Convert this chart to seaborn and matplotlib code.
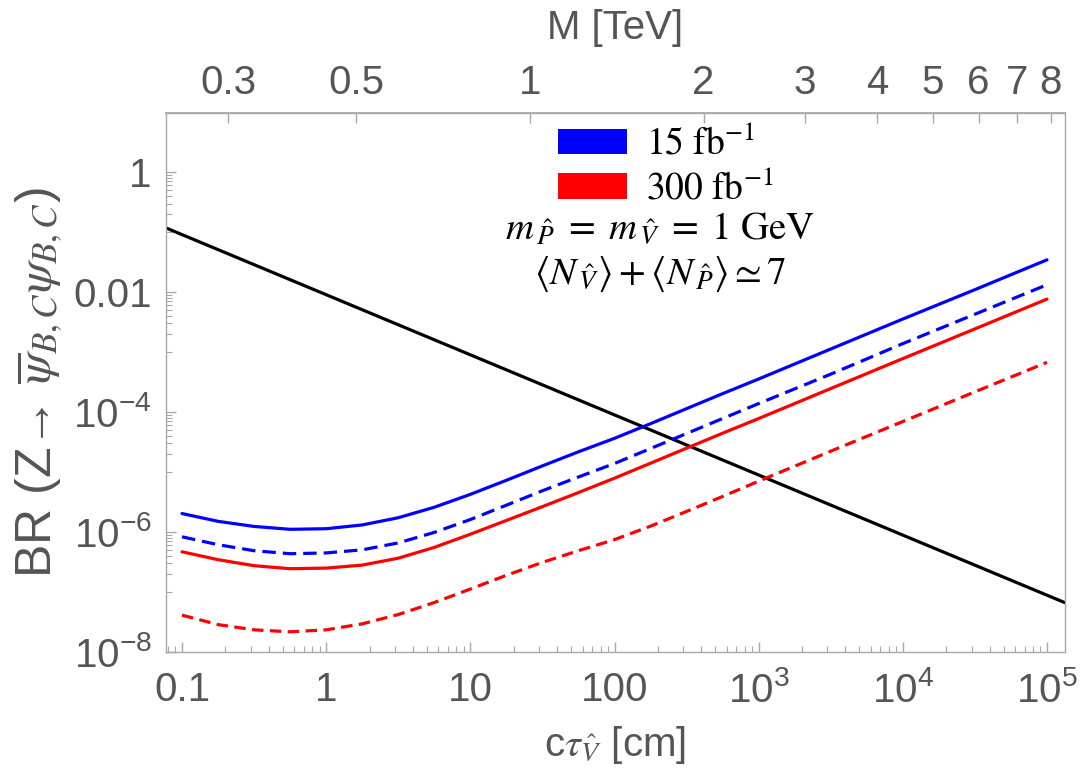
import numpy as np
import matplotlib
matplotlib.use("Agg")
import matplotlib.pyplot as plt
import seaborn as sns
from matplotlib.patches import Patch
from matplotlib.ticker import FixedLocator, FixedFormatter, NullLocator, NullFormatter

# ---------------- data ----------------
ctau = [0.1, 0.178, 0.316, 0.562, 1.0, 1.78, 3.16, 5.62, 10, 17.8, 31.6, 56.2,
        100, 178, 316, 562, 1000, 3160, 1e4, 3.16e4, 1e5]

# log10 of the branching ratio
log_br_15_solid = [-5.695, -5.825, -5.910, -5.958, -5.948, -5.885, -5.765, -5.590, -5.375,
                   -5.140, -4.900, -4.665, -4.440, -4.195, -3.945, -3.695, -3.450, -2.950,
                   -2.450, -1.960, -1.462]
log_br_15_dash = [-6.083, -6.215, -6.315, -6.365, -6.352, -6.300, -6.185, -6.010, -5.795,
                  -5.555, -5.315, -5.085, -4.860, -4.610, -4.360, -4.110, -3.860, -3.370,
                  -2.860, -2.370, -1.878]
log_br_300_solid = [-6.333, -6.465, -6.565, -6.615, -6.605, -6.555, -6.440, -6.260, -6.040,
                    -5.810, -5.580, -5.345, -5.105, -4.855, -4.605, -4.355, -4.110, -3.610,
                    -3.110, -2.615, -2.117]
log_br_300_dash = [-7.390, -7.548, -7.635, -7.668, -7.635, -7.535, -7.380, -7.180, -6.955,
                   -6.725, -6.510, -6.315, -6.130, -5.905, -5.660, -5.410, -5.155, -4.655,
                   -4.160, -3.665, -3.173]

black_x = [0.0771, 1.327e5]
black_y = [0.118, 6.6e-8]

x_ticks = [0.1, 1, 10, 100, 1e3, 1e4, 1e5]
x_labels = ["0.1", "1", "10", "100", r"$\mathregular{10^{3}}$", r"$\mathregular{10^{4}}$", r"$\mathregular{10^{5}}$"]
y_ticks = [1, 1e-2, 1e-4, 1e-6, 1e-8]
y_labels = ["1", "0.01", r"$\mathregular{10^{-4}}$", r"$\mathregular{10^{-6}}$", r"$\mathregular{10^{-8}}$"]
M_ticks = [0.3, 0.5, 1, 2, 3, 4, 5, 6, 7, 8]
M_labels = ["0.3", "0.5", "1", "2", "3", "4", "5", "6", "7", "8"]
ctau_at_1TeV = 25.9   # c tau [cm] at M = 1 TeV, scaling as M^4

legend_labels = [r"$15\ \mathrm{fb}^{-1}$", r"$300\ \mathrm{fb}^{-1}$"]

# ---------------- style ----------------
sns.set_theme(style="white")
SANS = ["Liberation Sans Narrow", "Liberation Sans", "DejaVu Sans"]
plt.rcParams["font.family"] = SANS
plt.rcParams["axes.unicode_minus"] = True
GRAY_TXT = "#555555"
GRAY_AX = "#a8a8a8"
TICKFS = 29

fig = plt.figure(figsize=(10.84, 7.79), dpi=100)
ax = fig.add_axes([0.1529, 0.1634, 0.8293, 0.6912])

LW = 2.3
sns.lineplot(x=black_x, y=black_y, ax=ax, color="black", lw=LW)
sns.lineplot(x=ctau, y=np.power(10.0, log_br_15_solid), ax=ax, color="#0000ff", lw=LW)
sns.lineplot(x=ctau, y=np.power(10.0, log_br_15_dash), ax=ax, color="#0000ff", lw=LW,
             linestyle=(0, (4.2, 2.2)))
sns.lineplot(x=ctau, y=np.power(10.0, log_br_300_solid), ax=ax, color="#ff0000", lw=LW)
sns.lineplot(x=ctau, y=np.power(10.0, log_br_300_dash), ax=ax, color="#ff0000", lw=LW,
             linestyle=(0, (3.6, 2.0)))

ax.set_xscale("log")
ax.set_yscale("log")
ax.set_xlim(0.0771, 1.327e5)
ax.set_ylim(1e-8, 9.62)

for s in ax.spines.values():
    s.set_color(GRAY_AX)
    s.set_linewidth(1.0)

ax.xaxis.set_major_locator(FixedLocator(x_ticks))
ax.xaxis.set_major_formatter(FixedFormatter(x_labels))
ax.yaxis.set_major_locator(FixedLocator(y_ticks))
ax.yaxis.set_major_formatter(FixedFormatter(y_labels))
ymin = [m * 10.0 ** (e - 1) for e in (0, -2, -4, -6) for m in range(1, 10)]
ax.yaxis.set_minor_locator(FixedLocator(ymin))
ax.yaxis.set_minor_formatter(NullFormatter())
xmin = [m * 10.0 ** e for e in range(-2, 6) for m in range(2, 10)]
ax.xaxis.set_minor_locator(FixedLocator(xmin))
ax.xaxis.set_minor_formatter(NullFormatter())

ax.tick_params(axis="both", which="both", direction="in", color=GRAY_AX,
               labelcolor=GRAY_TXT, labelsize=TICKFS, top=False, right=False,
               bottom=True, left=True)
ax.tick_params(axis="both", which="major", length=7, width=1.0)
ax.tick_params(axis="both", which="minor", length=4, width=0.8)
ax.tick_params(axis="x", which="major", pad=14)
ax.tick_params(axis="y", which="major", pad=10)

# top axis: M [TeV]
def ct_to_M(x):
    x = np.clip(np.asarray(x, dtype=float), 1e-30, None)
    return (x / ctau_at_1TeV) ** 0.25

def M_to_ct(m):
    m = np.clip(np.asarray(m, dtype=float), 1e-30, None)
    return ctau_at_1TeV * m ** 4

sec = ax.secondary_xaxis("top", functions=(ct_to_M, M_to_ct))
sec.set_xticks(M_ticks)
sec.set_xticklabels(M_labels)
sec.xaxis.set_minor_locator(NullLocator())
sec.xaxis.set_minor_formatter(NullFormatter())
sec.tick_params(axis="x", which="major", direction="in", length=7, width=1.0,
                color=GRAY_AX, labelcolor=GRAY_TXT, labelsize=TICKFS, pad=8)
sec.spines["top"].set_color(GRAY_AX)
sec.set_xlabel("M [TeV]", fontsize=TICKFS, color=GRAY_TXT, labelpad=18)

# axis labels
xl = ax.set_xlabel(r"c$\tau_{\hat{V}}$ [cm]", fontsize=TICKFS, color=GRAY_TXT, labelpad=10)
xl.set_math_fontfamily("stix")
yl = ax.set_ylabel(r"BR (Z→ $\overline{\psi}_{B,C}\psi_{B,C}$)", fontsize=36,
                   color=GRAY_TXT, labelpad=6)
yl.set_math_fontfamily("stix")

# legend
handles = [Patch(facecolor="#0000ff", edgecolor="none"), Patch(facecolor="#ff0000", edgecolor="none")]
leg = ax.legend(handles, legend_labels, loc="upper left",
                bbox_to_anchor=(0.5148, 0.838), bbox_transform=fig.transFigure,
                frameon=False, fontsize=27, handlelength=1.85, handleheight=0.68,
                handletextpad=0.5, labelspacing=0.22, borderpad=0, borderaxespad=0)
for t in leg.get_texts():
    t.set_math_fontfamily("stix")
    t.set_color("black")

t1 = fig.text(660 / 1084, 1 - 239 / 779,
              r"$m_{\,\hat{P}}\;=\;m_{\,\hat{V}}\;=\;1\ \mathrm{GeV}$",
              ha="center", va="baseline", fontsize=28, color="black")
t1.set_math_fontfamily("stix")
t2 = fig.text(660 / 1084, 1 - 284 / 779,
              r"$\langle N_{\,\hat{V}}\rangle + \langle N_{\,\hat{P}}\rangle \simeq 7$",
              ha="center", va="baseline", fontsize=28, color="black")
t2.set_math_fontfamily("stix")

fig.savefig("out.png", dpi=100)
